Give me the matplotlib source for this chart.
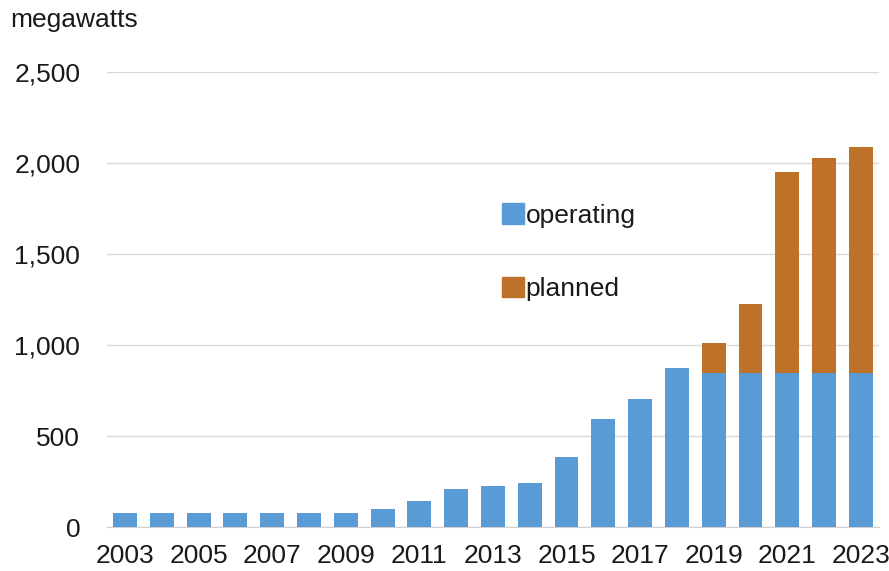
import matplotlib
matplotlib.use("Agg")
import matplotlib.pyplot as plt
from matplotlib.patches import Patch
from matplotlib.ticker import FuncFormatter

years = [str(y) for y in range(2003, 2024)]
operating = [75, 75, 75, 75, 75, 75, 75, 97, 141, 207, 227, 240, 386, 592, 705, 874,
             845, 845, 845, 845, 845]
planned = [0, 0, 0, 0, 0, 0, 0, 0, 0, 0, 0, 0, 0, 0, 0, 0,
           164, 380, 1104, 1182, 1241]
tick_labels = [y if i % 2 == 0 else "" for i, y in enumerate(years)]

blue = "#5B9BD5"
orange = "#BE7228"

plt.rcParams['font.family'] = ['Liberation Sans', 'DejaVu Sans']

fig = plt.figure(figsize=(8.89, 5.71), dpi=100)
ax = fig.add_axes([0.12, 0.077, 0.869, 0.797])

x = list(range(len(years)))
ax.bar(x, operating, width=0.65, color=blue, zorder=3)
ax.bar(x, planned, width=0.65, bottom=operating, color=orange, zorder=3)

ax.set_xlim(-0.5, len(years) - 0.5)
ax.set_ylim(0, 2500)
ax.set_yticks(range(0, 2501, 500))
ax.yaxis.set_major_formatter(FuncFormatter(lambda v, p: f"{int(v):,}"))
ax.set_xticks(x)
ax.set_xticklabels(tick_labels)
ax.grid(axis='y', color='#D9D9D9', linewidth=1, zorder=0)
for s in ['top', 'right', 'left']:
    ax.spines[s].set_visible(False)
ax.spines['bottom'].set_color('#D0D0D0')
ax.tick_params(axis='both', length=0, labelsize=19, colors='#1a1a1a')
ax.tick_params(axis='y', pad=19)
ax.tick_params(axis='x', pad=12.5)

fig.text(0.011, 0.965, "megawatts", fontsize=19, color='#1a1a1a', va='center', ha='left')

handles = [Patch(color=blue, label='operating'), Patch(color=orange, label='planned')]
ax.legend(handles=handles, loc='upper left', bbox_to_anchor=(0.512, 0.711), frameon=False,
          fontsize=19, handlelength=0.83, handleheight=0.83, handletextpad=0.05,
          labelspacing=1.85, borderaxespad=0, borderpad=0, labelcolor='#1a1a1a')

fig.savefig("out.png", dpi=100)
